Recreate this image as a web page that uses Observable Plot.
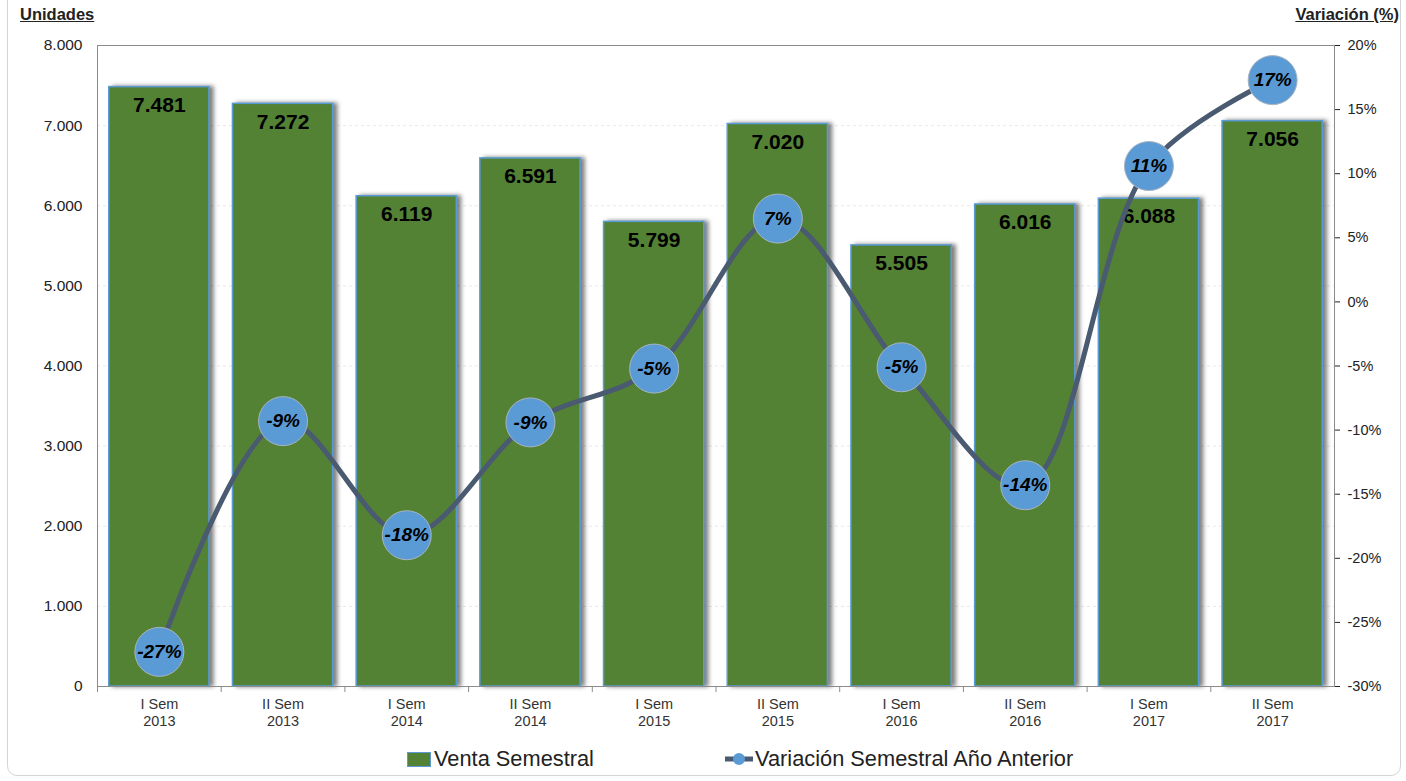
<!DOCTYPE html>
<html><head><meta charset="utf-8">
<script src="https://cdn.jsdelivr.net/npm/d3@7"></script>
<script src="https://cdn.jsdelivr.net/npm/@observablehq/plot@0.6"></script>
<style>
body{margin:0;background:#fff;font-family:"Liberation Sans",Arial,sans-serif;}
#wrap{position:relative;width:1406px;height:781px;overflow:hidden}
#frame{position:absolute;left:7px;top:-12px;width:1394px;height:788px;border:1px solid #d4d4d4;border-radius:10px;box-sizing:border-box}
.ttl{position:absolute;font-weight:bold;font-size:16.5px;text-decoration:underline;color:#222}
#chart{position:absolute;left:0;top:0}
.leg{position:absolute;top:746px;font-size:21.8px;color:#222;display:flex;align-items:center;white-space:nowrap}
.sw1{width:22px;height:13px;background:#548235;border:1.5px solid #5B9BD5;margin-right:3px}
</style></head><body>
<div id="wrap">
<div id="frame"></div>
<div class="ttl" style="left:20px;top:5px">Unidades</div>
<div class="ttl" style="right:7px;top:5px">Variación (%)</div>
<div id="chart"></div>
<div class="leg" style="left:407px"><div class="sw1"></div>Venta Semestral</div>
<div class="leg" style="left:724px"><svg width="30" height="20" style="margin-right:1px"><line x1="1" y1="10" x2="29" y2="10" stroke="#4A5A70" stroke-width="5"/><circle cx="15" cy="10" r="6" fill="#5B9BD5"/></svg>Variación Semestral Año Anterior</div>
</div>
<script>
const categories = ["I Sem 2013","II Sem 2013","I Sem 2014","II Sem 2014","I Sem 2015","II Sem 2015","I Sem 2016","II Sem 2016","I Sem 2017","II Sem 2017"];
const ventas = [7481, 7272, 6119, 6591, 5799, 7020, 5505, 6016, 6088, 7056];
const variacion = [-27.3, -9.3, -18.2, -9.4, -5.2, 6.5, -5.1, -14.3, 10.6, 17.3];
const leftTicks = [0,1000,2000,3000,4000,5000,6000,7000,8000];
const pctTicks = [-30,-25,-20,-15,-10,-5,0,5,10,15,20];

const W=1406,H=740,mt=45,mb=54,ml=97,mr=72;
const n=categories.length, step=(W-ml-mr)/n;
const yMax=8000, pMin=-30, pMax=20;
const toY = p => (p-pMin)/(pMax-pMin)*yMax;
const fromY = v => v/yMax*(pMax-pMin)+pMin;
const fmt = d3.formatLocale({decimal:",",thousands:".",grouping:[3],currency:["",""]}).format(",d");
const rows = categories.map((c,i)=>({cat:c, venta:ventas[i], pct:variacion[i], py:toY(variacion[i])}));

const chart = Plot.plot({
  width:W, height:H, marginTop:mt, marginBottom:mb, marginLeft:ml, marginRight:mr,
  style:{fontFamily:"'Liberation Sans', Arial, sans-serif", fontSize:"14px", color:"#222", background:"transparent", overflow:"visible"},
  x:{domain:categories, paddingInner:0.19, paddingOuter:0.095, round:false, axis:null, label:null},
  y:{domain:[0,yMax], axis:null, label:null},
  marks:[
    Plot.gridY(leftTicks.slice(1,-1),{stroke:"#ccc", strokeDasharray:"3,3", strokeOpacity:0.45}),
    Plot.barY(rows,{x:"cat", y:"venta", fill:"#548235", stroke:"#5B9BD5", strokeWidth:1.5}),
    Plot.text(rows,{x:"cat", y:"venta", text:d=>fmt(d.venta), dy:18, fontSize:21, fontWeight:"bold", fill:"#000"}),
    Plot.line(rows,{x:"cat", y:"py", curve:"catmull-rom", stroke:"#4A5A70", strokeWidth:5}),
    Plot.dot(rows,{x:"cat", y:"py", r:24.5, fill:"#5B9BD5", stroke:"#a8b4c0", strokeWidth:1}),
    Plot.text(rows,{x:"cat", y:"py", text:d=>Math.round(d.pct)+"%", fontSize:19, fontWeight:"bold", fontStyle:"italic", fill:"#000"}),
    Plot.frame({stroke:"#8c8c8c"}),
    Plot.axisY(leftTicks,{anchor:"left", label:null, tickSize:0, tickPadding:15, tickFormat:fmt, fontSize:15.5}),
    Plot.axisY(pctTicks.map(toY),{anchor:"right", label:null, tickSize:5, tickPadding:8, tickFormat:d=>Math.round(fromY(d))+"%", fontSize:14.5}),
    Plot.axisX({label:null, tickSize:0, tickPadding:10, lineHeight:1.18, fontSize:14.5, fill:"#333", tickFormat:d=>d.replace(/ (\d{4})$/,"\n$1")}),
    Plot.ruleX(categories,{x:d=>d, dx:-step/2, y1:0, y2:0, insetBottom:-6, stroke:"#8c8c8c"})
  ]
});
document.getElementById("chart").appendChild(chart);
d3.select(chart).selectAll("g[aria-label=bar] rect").style("filter","drop-shadow(4px 0px 2px rgba(0,0,0,0.5))");
</script>
</body></html>
